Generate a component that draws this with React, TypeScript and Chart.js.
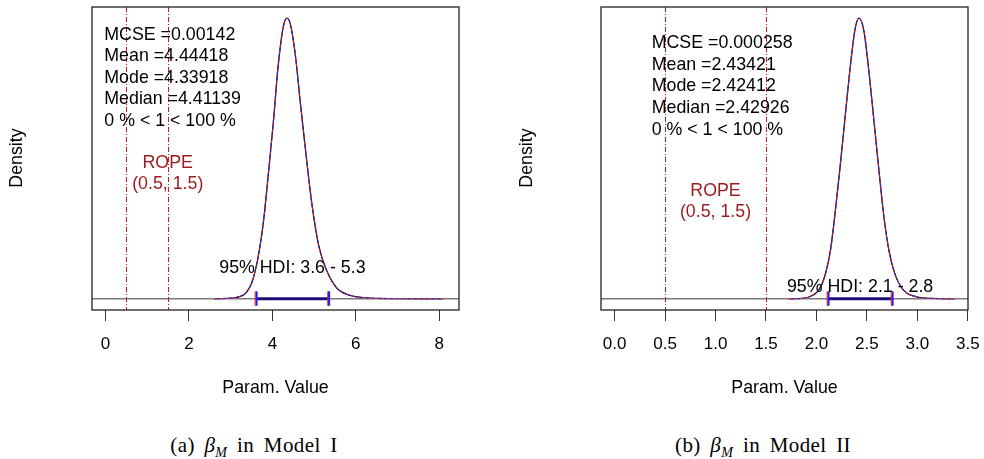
import React, { useEffect, useRef } from "react";
import { Chart, registerables } from "chart.js";
Chart.register(...registerables);

// ---------- Panel (a): beta_M in Model I ----------
const xTicksA = [0, 2, 4, 6, 8];
const xTickLabelsA = ["0", "2", "4", "6", "8"];
const xDataRangeA = [0, 8.15];
const densXA = [2.6, 2.75, 3.0, 3.15, 3.3, 3.39, 3.5, 3.59, 3.69, 3.79, 3.91, 4.03, 4.125, 4.2, 4.27, 4.35, 4.43, 4.55, 4.67, 4.81, 4.95, 5.11, 5.31, 5.55, 5.87, 6.27, 6.6, 7.0, 7.5, 8.1];
const densYA = [0, 0.0005, 0.002, 0.005, 0.012, 0.024, 0.051, 0.093, 0.163, 0.26, 0.423, 0.595, 0.753, 0.846, 0.907, 0.93, 0.911, 0.809, 0.651, 0.474, 0.312, 0.177, 0.091, 0.035, 0.011, 0.003, 0.001, 0.0003, 0.0001, 0];
const hdiA = [3.61, 5.35];
const ropeA = [0.5, 1.5];
const statsA = ["MCSE =0.00142", "Mean =4.44418", "Mode =4.33918", "Median =4.41139", "0 % < 1 < 100 %"];
const hdiLabelA = "95% HDI: 3.6 - 5.3";
const ropeLabelA = ["ROPE", "(0.5, 1.5)"];

// ---------- Panel (b): beta_M in Model II ----------
const xTicksB = [0, 0.5, 1, 1.5, 2, 2.5, 3, 3.5];
const xTickLabelsB = ["0.0", "0.5", "1.0", "1.5", "2.0", "2.5", "3.0", "3.5"];
const xDataRangeB = [0, 3.367];
const densXB = [1.72, 1.8, 1.93, 2.03, 2.09, 2.14, 2.18, 2.23, 2.28, 2.33, 2.38, 2.42, 2.47, 2.52, 2.57, 2.62, 2.67, 2.72, 2.78, 2.86, 2.99, 3.15, 3.37];
const densYB = [0, 0.001, 0.018, 0.088, 0.225, 0.438, 0.725, 1.138, 1.583, 2.025, 2.388, 2.5, 2.388, 2.025, 1.583, 1.138, 0.72, 0.423, 0.215, 0.08, 0.018, 0.003, 0];
const hdiB = [2.115, 2.75];
const ropeB = [0.5, 1.5];
const statsB = ["MCSE =0.000258", "Mean =2.43421", "Mode =2.42412", "Median =2.42926", "0 % < 1 < 100 %"];
const hdiLabelB = "95% HDI: 2.1 - 2.8";
const ropeLabelB = ["ROPE", "(0.5, 1.5)"];

const xTitle = "Param. Value";
const yTitle = "Density";

const FONT = "'Liberation Sans', Arial, Helvetica, sans-serif";
Chart.defaults.font.family = FONT;

type PanelCfg = {
  ticks: number[];
  tickLabels: string[];
  range: number[];
  dx: number[];
  dy: number[];
  hdi: number[];
  rope: number[];
  stats: string[];
  hdiLabel: string;
  ropeLabel: string[];
  padLeft: number;
  padRight: number;
  densityX: number;
  statsOffset: number;
  statsTop: number;
  ropeTextX: number;
  ropeTextY: number;
  hdiTextY: number;
};

const panelA: PanelCfg = {
  ticks: xTicksA, tickLabels: xTickLabelsA, range: xDataRangeA, dx: densXA, dy: densYA,
  hdi: hdiA, rope: ropeA, stats: statsA, hdiLabel: hdiLabelA, ropeLabel: ropeLabelA,
  padLeft: 92, padRight: 33, densityX: 17, statsOffset: 12.3, statsTop: 34.7,
  ropeTextX: 1.49, ropeTextY: 163, hdiTextY: 268,
};
const panelB: PanelCfg = {
  ticks: xTicksB, tickLabels: xTickLabelsB, range: xDataRangeB, dx: densXB, dy: densYB,
  hdi: hdiB, rope: ropeB, stats: statsB, hdiLabel: hdiLabelB, ropeLabel: ropeLabelB,
  padLeft: 109, padRight: 16, densityX: 35, statsOffset: 50.7, statsTop: 43.3,
  ropeTextX: 1.0, ropeTextY: 191, hdiTextY: 287,
};

const CW = 492;
const CH = 410;
const TXT = 17.8;

function makeDecor(cfg: PanelCfg) {
  return {
    id: "decor",
    afterDatasetDraw(chart: any, args: any) {
      if (args.index !== 3) return;
      const { ctx, chartArea: a, scales } = chart;
      const y0 = scales.y.getPixelForValue(0);
      ctx.save();
      ctx.strokeStyle = "#7a7a7a";
      ctx.lineWidth = 1.5;
      ctx.beginPath();
      ctx.moveTo(a.left, y0);
      ctx.lineTo(a.right, y0);
      ctx.stroke();
      ctx.restore();
    },
    afterDatasetsDraw(chart: any) {
      const { ctx, chartArea: a, scales } = chart;
      const x = scales.x;
      const y = scales.y;
      const y0 = y.getPixelForValue(0);
      ctx.save();
      ctx.strokeStyle = "#c01c1c";
      ctx.lineWidth = 1;
      ctx.setLineDash([5, 2, 1, 2]);
      cfg.rope.forEach((v) => {
        const px = Math.round(x.getPixelForValue(v)) + 0.5;
        ctx.beginPath();
        ctx.moveTo(px, a.top);
        ctx.lineTo(px, a.bottom);
        ctx.stroke();
      });
      ctx.setLineDash([]);
      cfg.hdi.forEach((v) => {
        const px = x.getPixelForValue(v);
        ctx.strokeStyle = "#2a1cf5";
        ctx.lineWidth = 2.2;
        ctx.beginPath();
        ctx.moveTo(px + 0.4, y0 - 7.5);
        ctx.lineTo(px + 0.4, y0 + 7);
        ctx.stroke();
        ctx.strokeStyle = "#e02020";
        ctx.lineWidth = 0.9;
        ctx.beginPath();
        ctx.moveTo(px - 1, y0 - 7.5);
        ctx.lineTo(px - 1, y0 + 7);
        ctx.stroke();
      });
      ctx.strokeStyle = "#222";
      ctx.lineWidth = 1.3;
      ctx.strokeRect(a.left, a.top, a.right - a.left, a.bottom - a.top);
      ctx.font = `${TXT}px ${FONT}`;
      ctx.textBaseline = "middle";
      ctx.fillStyle = "#000";
      ctx.textAlign = "left";
      cfg.stats.forEach((s, i) => {
        ctx.fillText(s, a.left + cfg.statsOffset, cfg.statsTop + i * 21.6);
      });
      ctx.textAlign = "center";
      ctx.fillText(cfg.hdiLabel, x.getPixelForValue((cfg.hdi[0] + cfg.hdi[1]) / 2), cfg.hdiTextY);
      ctx.fillStyle = "#9a1c1c";
      cfg.ropeLabel.forEach((s, i) => {
        ctx.fillText(s, x.getPixelForValue(cfg.ropeTextX), cfg.ropeTextY + i * 21.2);
      });
      ctx.fillStyle = "#000";
      ctx.translate(cfg.densityX, 158);
      ctx.rotate(-Math.PI / 2);
      ctx.fillText(yTitle, 0, 0);
      ctx.restore();
    },
  };
}

function Panel({ cfg, left }: { cfg: PanelCfg; left: number }) {
  const ref = useRef<HTMLCanvasElement>(null);
  useEffect(() => {
    const canvas = ref.current;
    if (!canvas) return;
    const pts = cfg.dx.map((v, i) => ({ x: v, y: cfg.dy[i] }));
    const hdiPts = cfg.hdi.map((v) => ({ x: v, y: 0 }));
    const span = cfg.range[1] - cfg.range[0];
    const peak = Math.max(...cfg.dy);
    const common = { pointRadius: 0, cubicInterpolationMode: "monotone", fill: false };
    const chart = new Chart(canvas, {
      type: "line",
      data: {
        datasets: [
          { data: hdiPts, borderColor: "#1c0c7a", borderWidth: 3, pointRadius: 0, fill: false },
          { ...common, data: pts, borderColor: "#2020ff", borderWidth: 1, borderDash: [3, 3], borderDashOffset: 3 },
          { ...common, data: pts, borderColor: "#ff1a1a", borderWidth: 1, borderDash: [3, 3] },
          { ...common, data: pts, borderColor: "#000", borderWidth: 1.3 },
        ],
      },
      options: {
        responsive: false,
        animation: false,
        layout: { padding: { left: cfg.padLeft, right: cfg.padRight, top: 7, bottom: 0 } },
        plugins: { legend: { display: false }, tooltip: { enabled: false } },
        scales: {
          x: {
            type: "linear",
            min: cfg.range[0] - 0.04 * span,
            max: cfg.range[1] + 0.04 * span,
            afterBuildTicks: (s: any) => {
              s.ticks = cfg.ticks.map((v) => ({ value: v }));
            },
            afterFit: (s: any) => {
              s.height = CH - 310;
              s.paddingLeft = 0;
              s.paddingRight = 0;
            },
            grid: { drawOnChartArea: false, drawTicks: true, tickLength: 11, color: "#333", lineWidth: 1 },
            border: { display: false },
            ticks: {
              font: { size: 17 },
              color: "#000",
              padding: 13,
              maxRotation: 0,
              autoSkip: false,
              callback: (_v: any, i: number) => cfg.tickLabels[i],
            },
            title: { display: true, text: xTitle, font: { size: TXT }, color: "#000", padding: { top: 0, bottom: 11 } },
          },
          y: { type: "linear", display: false, min: -0.04 * peak, max: 1.04 * peak },
        },
      },
      plugins: [makeDecor(cfg)],
    } as any);
    return () => chart.destroy();
  }, []);
  return (
    <canvas
      ref={ref}
      width={CW}
      height={CH}
      style={{ position: "absolute", left, top: 0, width: CW, height: CH }}
    />
  );
}

const captionStyle: React.CSSProperties = {
  position: "absolute",
  top: 432,
  width: 400,
  textAlign: "center",
  fontFamily: "'Liberation Serif', 'DejaVu Serif', serif",
  fontSize: 21,
  letterSpacing: "0.4px",
  wordSpacing: "4px",
  lineHeight: "26px",
  color: "#000",
  whiteSpace: "nowrap",
};

export default function App() {
  useEffect(() => {
    document.body.style.margin = "0";
  }, []);
  return (
    <div style={{ position: "relative", width: 984, height: 459, background: "#fff", overflow: "hidden" }}>
      <Panel cfg={panelA} left={0} />
      <Panel cfg={panelB} left={492} />
      <div style={{ ...captionStyle, left: 254 - 200 }}>
        (a) <i>β</i><sub style={{ fontSize: 14, lineHeight: 0 }}><i>M</i></sub> in Model I
      </div>
      <div style={{ ...captionStyle, left: 763 - 200 }}>
        (b) <i>β</i><sub style={{ fontSize: 14, lineHeight: 0 }}><i>M</i></sub> in Model II
      </div>
    </div>
  );
}
